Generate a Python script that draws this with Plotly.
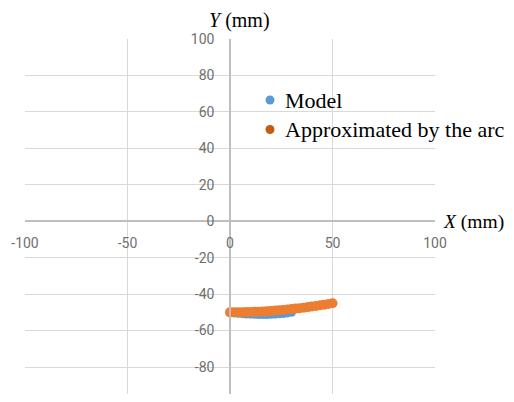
import plotly.graph_objects as go

# ---- data ----
model_x = [0, 2, 4, 6, 8, 10, 12, 14, 16, 18, 20, 22, 24, 26, 28, 30]
model_y = [-50.0, -50.3, -50.5, -50.7, -50.9, -51.0, -51.1, -51.2, -51.2, -51.2,
           -51.1, -51.0, -50.8, -50.6, -50.3, -50.0]

arc_x = [0, 2, 4, 6, 8, 10, 12, 14, 16, 18, 20, 22, 24, 26, 28, 30, 32, 34, 36,
         38, 40, 42, 44, 46, 48, 50]
arc_y = [-50.00, -49.99, -49.97, -49.93, -49.87, -49.80, -49.71, -49.61, -49.49,
         -49.35, -49.20, -49.03, -48.85, -48.65, -48.43, -48.20, -47.95, -47.69,
         -47.41, -47.11, -46.80, -46.47, -46.13, -45.77, -45.39, -45.00]

x_tick_vals = [-100, -50, 0, 50, 100]
x_tick_text = ["-100", "-50", "0", "50", "100"]
y_tick_vals = [-100, -80, -60, -40, -20, 0, 20, 40, 60, 80, 100]
y_tick_text = ["-100", "-80", "-60", "-40", "-20", "0", "20", "40", "60", "80", "100"]

# visible y range (the reference window cuts the chart just above -100)
y_range = [-94.8, 100]

series_names = ["Model", "Approximated by the arc"]

BLUE = "#5b9bd5"
ORANGE = "#ed7d31"
ORANGE_LEG = "#c55a11"
GRID = "#d9d9d9"
AXIS = "#bfbfbf"
TICK = "#6f6f6f"
SERIF = "Liberation Serif, Times New Roman, serif"

# The page body has an 8px margin, so the figure is drawn 8px in from the
# window's top-left corner.  Geometry below is in window pixels.
OFF = 8
FIG_W, FIG_H = 514 - OFF, 402 - 2 * OFF
L, T = 25, 39
W = 410
H = (402 - OFF) - T     # plot area reaches the bottom of the figure


def px(xp):
    return (xp - L) / W


def py(yp):
    return (T + H - yp) / H


fig = go.Figure()
fig.add_trace(go.Scatter(x=model_x, y=model_y, mode="markers", name=series_names[0],
                         showlegend=False,
                         marker=dict(color=BLUE, size=9, line=dict(width=0))))
fig.add_trace(go.Scatter(x=arc_x, y=arc_y, mode="markers", name=series_names[1],
                         showlegend=False,
                         marker=dict(color=ORANGE, size=10, line=dict(width=0))))

fig.update_layout(
    width=FIG_W, height=FIG_H,
    margin=dict(l=L - OFF, r=FIG_W - (L - OFF) - W, t=T - OFF,
                b=FIG_H - (T - OFF) - H, pad=0),
    paper_bgcolor="white", plot_bgcolor="white",
    font=dict(family="Roboto, sans-serif", color=TICK, size=14),
    xaxis=dict(range=[-100, 100], tickvals=x_tick_vals, ticktext=x_tick_text,
               showgrid=True, gridcolor=GRID, gridwidth=1,
               zeroline=False, showline=True, linecolor=AXIS, linewidth=1.5,
               anchor="free", position=-y_range[0] / (y_range[1] - y_range[0]),
               ticks="", ticklabelstandoff=9,
               automargin=False, fixedrange=True),
    yaxis=dict(range=y_range, tickvals=y_tick_vals, ticktext=y_tick_text,
               showgrid=True, gridcolor=GRID, gridwidth=1,
               zeroline=False, showline=True, linecolor=AXIS, linewidth=1.5,
               anchor="free", position=0.5, ticks="", ticklabelstandoff=12,
               automargin=False, fixedrange=True),
    showlegend=False,
)

# legend drawn in place (markers + real text)
legend_rows = [(series_names[0], BLUE, 100), (series_names[1], ORANGE_LEG, 129.5)]
for name, col, yrow in legend_rows:
    fig.add_shape(type="circle", xref="paper", yref="paper",
                  xsizemode="pixel", ysizemode="pixel",
                  xanchor=px(270), yanchor=py(yrow),
                  x0=-4.5, x1=4.5, y0=-4.5, y1=4.5,
                  fillcolor=col, line=dict(width=0))
    fig.add_annotation(text=name, xref="paper", yref="paper",
                       x=px(284), y=py(yrow), xanchor="left", yanchor="middle",
                       showarrow=False, borderpad=0,
                       font=dict(family=SERIF, size=22, color="black"))

fig.add_annotation(text="<i>Y</i> (mm)", xref="paper", yref="paper",
                   x=px(239), y=py(20), xanchor="center", yanchor="middle",
                   showarrow=False, font=dict(family=SERIF, size=20, color="black"))
fig.add_annotation(text="<i>X</i> (mm)", xref="paper", yref="paper",
                   x=px(442), y=py(222), xanchor="left", yanchor="middle",
                   showarrow=False, borderpad=0,
                   font=dict(family=SERIF, size=19.5, color="black"))

fig.write_html("out.html")
